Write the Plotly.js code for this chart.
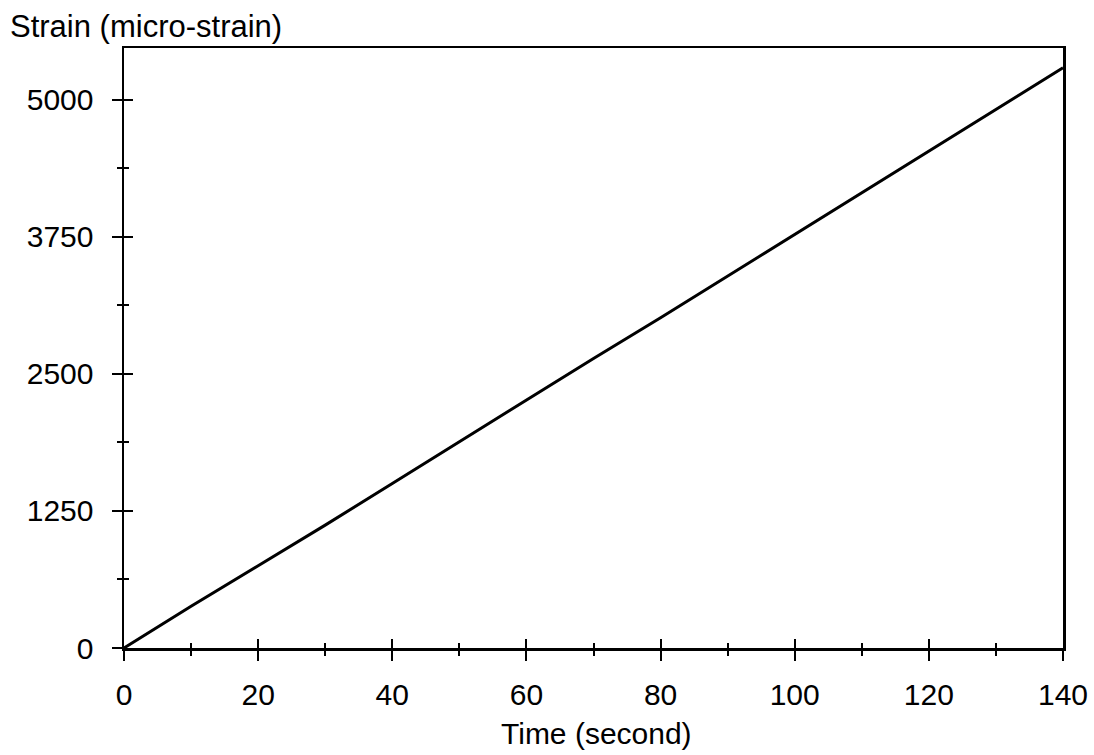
<!DOCTYPE html>
<html>
<head>
<meta charset="utf-8">
<script src="https://cdn.plot.ly/plotly-3.0.1.min.js"></script>
<style>html,body{margin:0;padding:0;background:#fff;}#chart{width:1094px;height:755px;}</style>
</head>
<body>
<div id="chart"></div>
<script>
const timeSeconds = [0, 10, 20, 30, 40, 50, 60, 70, 80, 90, 100, 110, 120, 130, 140];
const strainMicro = [0, 380, 750, 1120, 1500, 1880, 2260, 2640, 3010, 3390, 3770, 4150, 4530, 4910, 5290];
const xTickVals = [0, 20, 40, 60, 80, 100, 120, 140];
const yTickVals = [0, 1250, 2500, 3750, 5000];
const xTitle = "Time (second)";
const yTitle = "Strain (micro-strain)";

const W = 1094, H = 755;
const L = 124, R = 31, T = 48, B = 107;
const pw = W - L - R, ph = H - T - B;
const fontFam = "Liberation Sans, Arial, Helvetica, sans-serif";
const xRange = [0, 140];
const yRange = [0, 5470];

const trace = {
  x: timeSeconds, y: strainMicro, type: 'scatter', mode: 'lines',
  line: {color: '#000', width: 3}, xaxis: 'x', yaxis: 'y', hoverinfo: 'skip'
};

const baseX = {
  range: xRange, tickvals: xTickVals, showgrid: false, zeroline: false,
  tickfont: {family: fontFam, size: 30, color: '#000'}, tickcolor: '#000', tickwidth: 2
};
const baseY = {
  range: yRange, tickvals: yTickVals, showgrid: false, zeroline: false,
  tickfont: {family: fontFam, size: 30, color: '#000'}, tickcolor: '#000', tickwidth: 2
};

const layout = {
  width: W, height: H,
  margin: {l: L, r: R, t: T, b: B, pad: 0},
  paper_bgcolor: '#fff', plot_bgcolor: '#fff',
  showlegend: false,
  font: {family: fontFam, color: '#000'},
  xaxis: Object.assign({}, baseX, {
    ticks: 'outside', ticklen: 10, showline: true, linecolor: '#000', linewidth: 2.5, mirror: true,
    minor: {dtick: 10, tick0: 0, ticks: 'outside', ticklen: 5, tickwidth: 2, tickcolor: '#000', showgrid: false},
    ticklabelstandoff: 8
  }),
  xaxis2: Object.assign({}, baseX, {
    overlaying: 'x', anchor: 'y', side: 'bottom', ticks: 'inside', ticklen: 9, showline: false,
    showticklabels: false,
    minor: {dtick: 10, tick0: 0, ticks: 'inside', ticklen: 5, tickwidth: 2, tickcolor: '#000', showgrid: false}
  }),
  yaxis: Object.assign({}, baseY, {
    ticks: 'outside', ticklen: 10, showline: true, linecolor: '#000', linewidth: 2.5, mirror: true,
    minor: {dtick: 625, tick0: 0, ticks: 'outside', ticklen: 5, tickwidth: 2, tickcolor: '#000', showgrid: false},
    ticklabelstandoff: 12
  }),
  yaxis2: Object.assign({}, baseY, {
    overlaying: 'y', anchor: 'x', side: 'left', ticks: 'inside', ticklen: 9, showline: false,
    showticklabels: false,
    minor: {dtick: 625, tick0: 0, ticks: 'inside', ticklen: 5, tickwidth: 2, tickcolor: '#000', showgrid: false}
  }),
  annotations: [
    {text: yTitle, xref: 'paper', yref: 'paper', x: (8 - L) / pw, y: 1 + (T - 26) / ph,
     xanchor: 'left', yanchor: 'middle', showarrow: false,
     font: {family: fontFam, size: 31, color: '#000'}},
    {text: xTitle, xref: 'paper', yref: 'paper', x: (596 - L) / pw, y: -(733 - (H - B)) / ph,
     xanchor: 'center', yanchor: 'middle', showarrow: false,
     font: {family: fontFam, size: 30, color: '#000'}}
  ]
};

const dummy = {x: xRange, y: yRange, type: 'scatter', mode: 'none', xaxis: 'x2', yaxis: 'y2', hoverinfo: 'skip'};

Plotly.newPlot('chart', [dummy, trace], layout, {displayModeBar: false, staticPlot: true});
</script>
</body>
</html>
